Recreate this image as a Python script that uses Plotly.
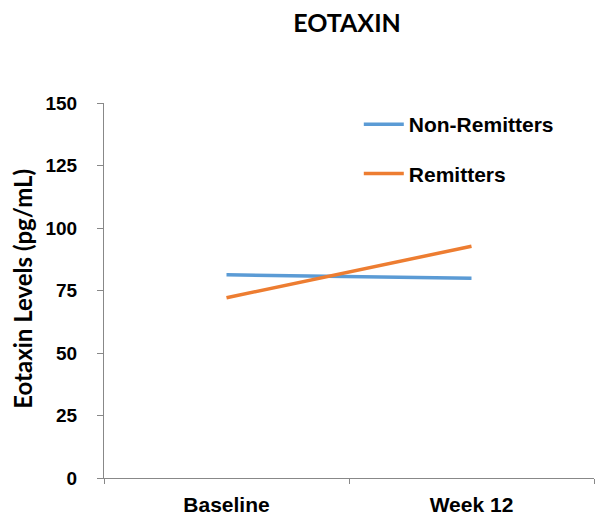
import plotly.graph_objects as go

categories = ["Baseline", "Week 12"]
non_remitters = [81.3, 79.9]
remitters = [72.1, 92.7]
y_ticks = [0, 25, 50, 75, 100, 125, 150]

fig = go.Figure()
fig.add_trace(go.Scatter(x=categories, y=non_remitters, mode="lines", name="Non-Remitters",
                         line=dict(color="#5B9BD5", width=3.5), legendgroup="a"))
fig.add_trace(go.Scatter(x=categories, y=remitters, mode="lines", name="Remitters",
                         line=dict(color="#ED7D31", width=3.5), legendgroup="b"))

# page body adds an 8px offset; margins compensate for it
fig.update_layout(
    width=604, height=520,
    margin=dict(l=96, r=18, t=95, b=50, autoexpand=False),
    paper_bgcolor="white", plot_bgcolor="white",
    font=dict(family="Liberation Sans, Arial", color="black", size=18, weight="bold"),
    title=dict(text="EOTAXIN", x=339/604, xanchor="center", y=1 - 15/520, yanchor="middle",
               font=dict(family="Lato, Open Sans", size=25, color="black", weight="bold")),
    showlegend=True,
    legend=dict(x=0.52, xanchor="left", y=0.997, yanchor="top", bgcolor="rgba(0,0,0,0)",
                tracegroupgap=19, itemwidth=40, font=dict(size=21, weight="bold")),
    annotations=[dict(text="Eotaxin Levels (pg/mL)", textangle=-90, showarrow=False,
                      xref="paper", yref="paper", x=-0.167, y=0.505,
                      xanchor="center", yanchor="middle",
                      font=dict(family="Lato, Open Sans", size=24, weight="bold", color="black"))],
)
fig.update_xaxes(
    type="category", range=[-0.5, 1.5], showline=True, linecolor="#888888", linewidth=1,
    ticks="outside", tickson="boundaries", ticklen=5, tickcolor="#888888",
    showgrid=False, zeroline=False, automargin=False, ticklabelstandoff=8,
    tickfont=dict(size=21, weight="bold"),
)
fig.update_yaxes(
    range=[0, 150], tickvals=y_ticks, showline=True, linecolor="#888888", linewidth=1,
    ticks="outside", ticklen=6, tickcolor="#888888", showgrid=False, zeroline=False,
    automargin=False, ticklabelstandoff=16,
    tickfont=dict(size=19, weight="bold"),
)
fig.write_html("out.html")
